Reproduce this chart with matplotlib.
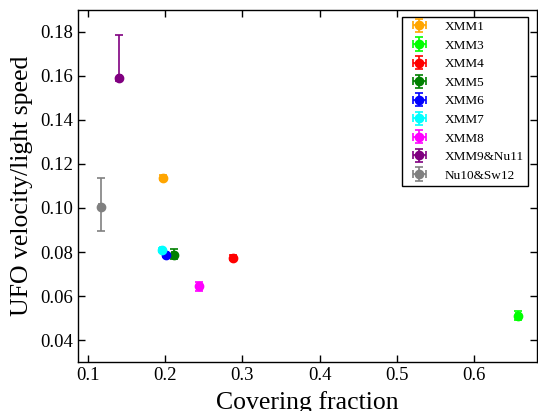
import matplotlib
matplotlib.use("Agg")
import matplotlib.pyplot as plt

labels = ["XMM1", "XMM3", "XMM4", "XMM5", "XMM6", "XMM7", "XMM8", "XMM9&Nu11", "Nu10&Sw12"]
colors = ["orange", "lime", "red", "green", "blue", "cyan", "magenta", "purple", "gray"]
cov = [0.198, 0.6565, 0.288, 0.2114, 0.2015, 0.196, 0.2445, 0.1413, 0.1168]
cov_err = [0.002, 0.002, 0.002, 0.002, 0.002, 0.002, 0.002, 0.002, 0.002]
vel = [0.1138, 0.051, 0.0775, 0.0785, 0.0787, 0.0808, 0.0645, 0.159, 0.1005]
vel_err_lo = [0.0012, 0.002, 0.001, 0.0015, 0.001, 0.001, 0.002, 0.0012, 0.011]
vel_err_hi = [0.0012, 0.002, 0.001, 0.003, 0.001, 0.001, 0.002, 0.0195, 0.013]

plt.rcParams['font.family'] = ['Liberation Serif', 'DejaVu Serif']
plt.rcParams['mathtext.fontset'] = 'stix'

fig = plt.figure(figsize=(5.38, 4.11), dpi=100)
ax = fig.add_axes([0.145, 0.119, 0.853, 0.857])

for i in range(len(labels)):
    ax.errorbar(cov[i], vel[i], xerr=cov_err[i],
                yerr=[[vel_err_lo[i]], [vel_err_hi[i]]],
                fmt='o', color=colors[i], ecolor=colors[i], markersize=6,
                capsize=3, elinewidth=1.2, capthick=1.2, label=labels[i])

ax.set_xlim(0.0877, 0.681)
ax.set_ylim(0.03, 0.19)
ax.set_xticks([0.1, 0.2, 0.3, 0.4, 0.5, 0.6])
ax.set_yticks([0.04, 0.06, 0.08, 0.10, 0.12, 0.14, 0.16, 0.18])
ax.tick_params(direction='in', top=True, right=True, labelsize=13.5, length=5, width=1)
for s in ax.spines.values():
    s.set_linewidth(1.0)
ax.set_xlabel("Covering fraction", fontsize=18.5, labelpad=5)
ax.set_ylabel("UFO velocity/light speed", fontsize=18.5, labelpad=5)

leg = ax.legend(loc='upper right', fontsize=9.5, frameon=True, fancybox=False,
                edgecolor='black', framealpha=1, borderpad=0.3, labelspacing=0.48,
                handlelength=2.1, handletextpad=0.86, borderaxespad=0,
                bbox_to_anchor=(0.98, 0.98))
leg.get_frame().set_linewidth(1.0)

fig.savefig("out.png", dpi=100)
